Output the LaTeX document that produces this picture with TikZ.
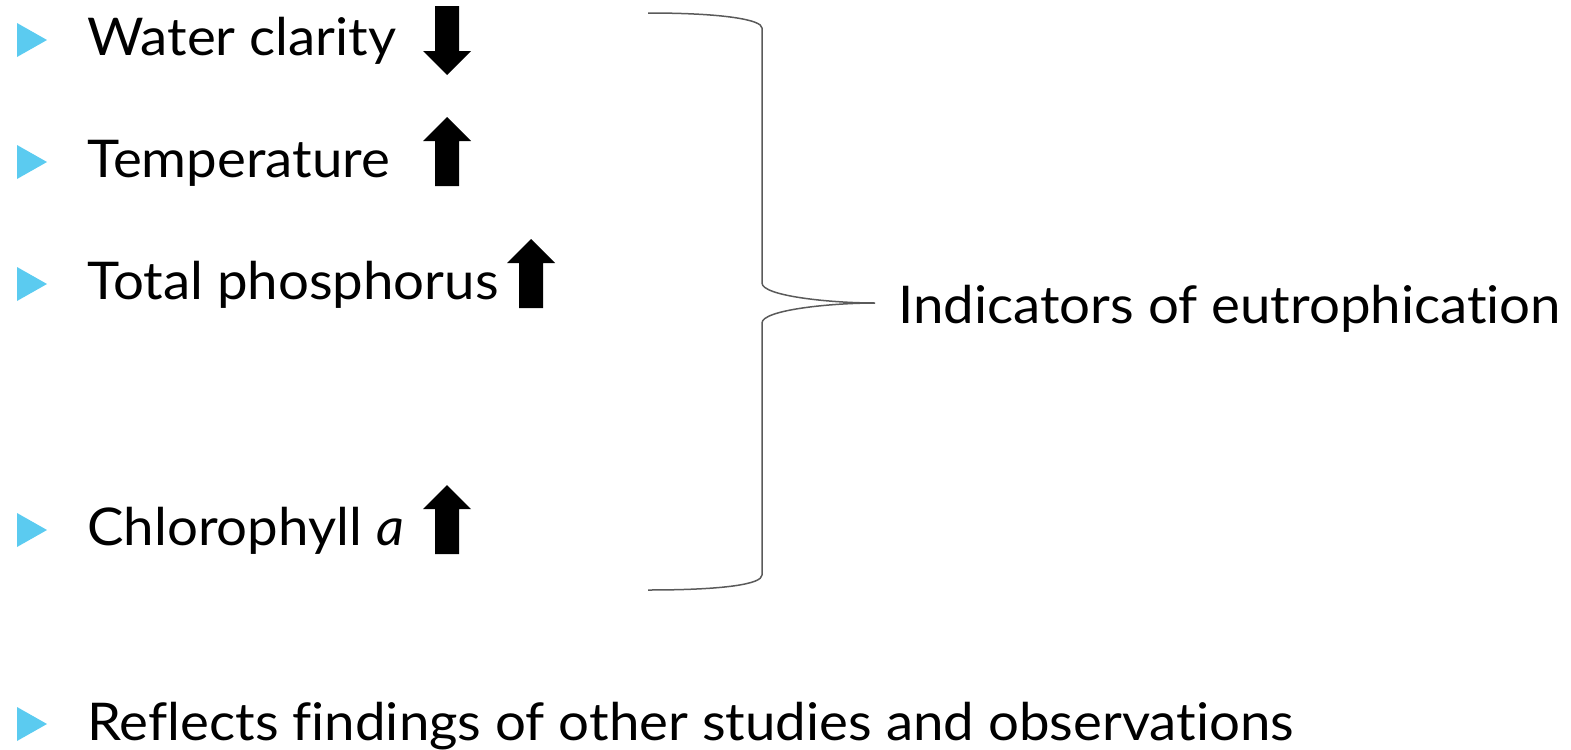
\documentclass[tikz,border=0pt]{standalone}
\usepackage{fontspec}
\setmainfont{Lato}[Ligatures={NoCommon}, FakeStretch=1.05]
\usetikzlibrary{calc}
\definecolor{bulletblue}{HTML}{5BCBF0}
\definecolor{bracegray}{HTML}{5A5A5A}
\def\itemtri(#1){\fill[bulletblue] (17,{#1-17}) -- (47,#1) -- (17,{#1+17}) -- cycle;}
\def\bigarrow(#1,#2)(#3){\fill ({#1},{#2-(#3)*34}) -- ({#1+24},{#2-(#3)*10}) -- ({#1+12},{#2-(#3)*10}) -- ({#1+12},{#2+(#3)*35}) -- ({#1-12},{#2+(#3)*35}) -- ({#1-12},{#2-(#3)*10}) -- ({#1-24},{#2-(#3)*10}) -- cycle;}
\tikzset{
  item/.style={anchor=base west, inner sep=0pt, font=\fontsize{26}{30}\selectfont},
}

\begin{document}
\begin{tikzpicture}[x=0.5pt, y=-0.5pt]
			%%%%% START %%%%%
			\useasboundingbox (0, 0) rectangle (1571, 750);
			
			\itemtri(40)
			\node[item] (wc) at (87, 55) {Water clarity};
			\bigarrow(447,41)(-1)
			
			\itemtri(162)
			\node[item] (temp) at (87, 177) {Temperature};
			\bigarrow(447,151)(1)
			
			\itemtri(284)
			\node[item] (tp) at (87, 299) {Total phosphorus};
			\bigarrow(531,273)(1)
			
			\itemtri(530)
			\node[item] (chl) at (87, 545) {Chlorophyll \textit{a}};
			\bigarrow(447,519)(1)
			
			\itemtri(724)
			\node[item] (refl) at (87, 740) {Reflects findings of other studies and observations};
			
			\node[item] (indic) at (898, 323) {Indicators of eutrophication};
			\coordinate (bracetip) at (875, 303);
			\draw[line width=0.75pt, color=bracegray] (648, 13) .. controls (725, 13) and (762, 20) .. (762, 28) -- (762, 283) .. controls (762, 296) and (830, 303) .. (bracetip) .. controls (830, 303) and (762, 310) .. (762, 323) -- (762, 575) .. controls (762, 584) and (725, 590) .. (648, 590);
			
			%%%%% END %%%%%
		\end{tikzpicture}
\end{document}
